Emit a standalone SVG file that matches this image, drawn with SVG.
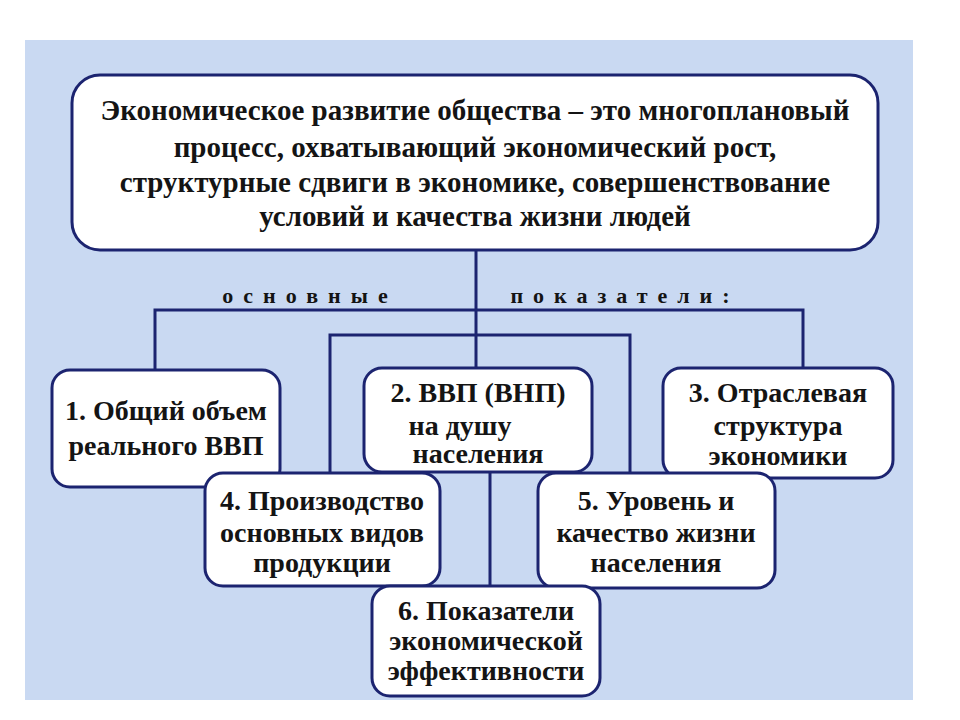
<svg xmlns="http://www.w3.org/2000/svg" width="960" height="720" viewBox="0 0 960 720">
<style>
.box{fill:#fff;stroke:#1c2470;stroke-width:3}
.ln{stroke:#1c2470;stroke-width:3;fill:none}
text{font-family:'Liberation Serif','Times New Roman','DejaVu Serif',serif;font-weight:bold;fill:#141414;text-anchor:middle}
.t{font-size:29px}
.b{font-size:28px}
.l{font-size:22px;letter-spacing:10px}
</style>
<rect width="960" height="720" fill="#fff"/>
<rect x="25" y="40" width="888" height="660" fill="#c9d9f2"/>
<g id="connectors">
<path class="ln" d="M476 250V372M155 372V310H803V372M330 478V335H630V478M490 470V588"/>
</g>
<text class="l" x="310" y="303">основные</text>
<text class="l" x="625" y="303">показатели:</text>
<g id="top"><rect class="box" x="72" y="75" width="806" height="175" rx="28"/>
<text class="t" x="475" y="120">Экономическое развитие общества – это многоплановый</text>
<text class="t" x="475" y="157">процесс,  охватывающий экономический рост,</text>
<text class="t" x="475" y="192">структурные сдвиги в экономике, совершенствование</text>
<text class="t" x="475" y="226">условий и качества жизни людей</text></g>
<g id="n1"><rect class="box" x="52" y="370" width="228" height="117" rx="18"/>
<text class="b" x="166" y="420">1. Общий объем</text><text class="b" x="166" y="455">реального ВВП</text></g>
<g id="n2"><rect class="box" x="364" y="368" width="228" height="104" rx="18"/>
<text class="b" x="478" y="402">2.  ВВП (ВНП)</text><text class="b" x="460" y="435">на   душу</text><text class="b" x="478" y="463">населения</text></g>
<g id="n3"><rect class="box" x="663" y="368" width="230" height="110" rx="18"/>
<text class="b" x="778" y="402">3. Отраслевая</text><text class="b" x="778" y="435">структура</text><text class="b" x="778" y="465">экономики</text></g>
<g id="n4"><rect class="box" x="205" y="473" width="235" height="113" rx="18"/>
<text class="b" x="322" y="510">4. Производство</text><text class="b" x="322" y="542">основных видов</text><text class="b" x="322" y="572">продукции</text></g>
<g id="n5"><rect class="box" x="538" y="473" width="237" height="115" rx="18"/>
<text class="b" x="656" y="510">5. Уровень и</text><text class="b" x="656" y="542">качество жизни</text><text class="b" x="656" y="572">населения</text></g>
<g id="n6"><rect class="box" x="372" y="586" width="228" height="110" rx="18"/>
<text class="b" x="486" y="620">6. Показатели</text><text class="b" x="486" y="650">экономической</text><text class="b" x="486" y="680">эффективности</text></g>
</svg>
